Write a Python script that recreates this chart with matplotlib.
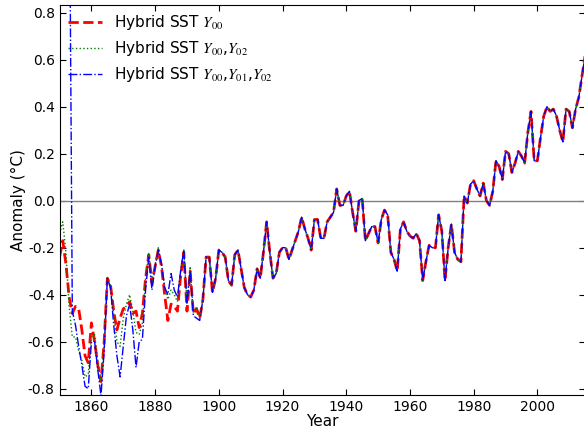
"""Hybrid SST anomaly series, 1850-2015."""
import numpy as np
import matplotlib
matplotlib.use("Agg")
import matplotlib.pyplot as plt

plt.rcParams["axes.unicode_minus"] = False
plt.rcParams["mathtext.fontset"] = "stix"

years = np.arange(1850, 2016)

# Y00 series, full period
y00 = [
    -0.24, -0.17, -0.27, -0.41, -0.48, -0.45, -0.46, -0.55, -0.66, -0.69,  # 1850
    -0.52, -0.60, -0.70, -0.77, -0.60, -0.33, -0.36, -0.47, -0.55, -0.50,  # 1860
    -0.46, -0.45, -0.43, -0.48, -0.47, -0.54, -0.48, -0.33, -0.23, -0.35,  # 1870
    -0.28, -0.21, -0.28, -0.40, -0.51, -0.44, -0.45, -0.47, -0.32, -0.22,  # 1880
    -0.47, -0.30, -0.48, -0.46, -0.50, -0.42, -0.24, -0.24, -0.39, -0.33,  # 1890
    -0.21, -0.22, -0.24, -0.34, -0.36, -0.23, -0.21, -0.29, -0.37, -0.40,  # 1900
    -0.41, -0.38, -0.29, -0.33, -0.22, -0.09, -0.22, -0.33, -0.31, -0.22,  # 1910
    -0.20, -0.20, -0.25, -0.21, -0.17, -0.13, -0.07, -0.12, -0.16, -0.21,  # 1920
    -0.08, -0.08, -0.16, -0.16, -0.09, -0.07, -0.05, 0.05, -0.02, -0.02,   # 1930
    0.02, 0.04, -0.05, -0.13, 0.00, 0.01, -0.17, -0.14, -0.11, -0.11,      # 1940
    -0.18, -0.08, -0.04, -0.06, -0.22, -0.25, -0.30, -0.12, -0.09, -0.13,  # 1950
    -0.15, -0.16, -0.14, -0.17, -0.34, -0.26, -0.19, -0.20, -0.20, -0.06,  # 1960
    -0.13, -0.34, -0.20, -0.10, -0.22, -0.25, -0.26, 0.02, -0.01, 0.07,    # 1970
    0.085, 0.05, 0.02, 0.075, 0.00, -0.02, 0.04, 0.17, 0.145, 0.09,        # 1980
    0.21, 0.20, 0.12, 0.16, 0.21, 0.19, 0.16, 0.29, 0.38, 0.17,            # 1990
    0.17, 0.27, 0.36, 0.40, 0.38, 0.39, 0.36, 0.30, 0.25, 0.39,            # 2000
    0.38, 0.31, 0.39, 0.44, 0.53, 0.62,                                    # 2010
]

# early years where the other two versions differ (1850-1895)
y00_y02_early = [
    -0.14, -0.09, -0.22, -0.45, -0.58, -0.58, -0.64, -0.68, -0.75, -0.74,
    -0.58, -0.57, -0.68, -0.77, -0.60, -0.33, -0.36, -0.48, -0.60, -0.62,
    -0.50, -0.44, -0.40, -0.47, -0.56, -0.57, -0.52, -0.33, -0.22, -0.34,
    -0.27, -0.20, -0.27, -0.37, -0.42, -0.38, -0.40, -0.43, -0.30, -0.21,
    -0.43, -0.28, -0.48, -0.45, -0.50, -0.42,
]
y00_y01_y02_early = [
    2.60, 2.30, 2.00, 1.60, -0.47, -0.53, -0.62, -0.70, -0.79, -0.80,
    -0.60, -0.60, -0.72, -0.83, -0.64, -0.33, -0.37, -0.53, -0.66, -0.75,
    -0.62, -0.49, -0.44, -0.55, -0.71, -0.60, -0.59, -0.38, -0.24, -0.38,
    -0.28, -0.21, -0.27, -0.37, -0.40, -0.31, -0.38, -0.41, -0.30, -0.21,
    -0.44, -0.30, -0.49, -0.50, -0.51, -0.42,
]
n = len(y00_y02_early)
y00_y02 = y00_y02_early + y00[n:]
y00_y01_y02 = y00_y01_y02_early + y00[n:]

fig = plt.figure(figsize=(5.84, 4.30), dpi=100)
ax = fig.add_axes([0.102, 0.0814, 0.90, 0.907])

ax.axhline(0, color="gray", linewidth=1)
ax.plot(years, y00, color="red", linestyle="--", linewidth=2,
        label="Hybrid SST $Y_{00}$")
ax.plot(years, y00_y02, color="green", linestyle=":", linewidth=1,
        label="Hybrid SST $Y_{00}$,$Y_{02}$")
ax.plot(years, y00_y01_y02, color="blue", linestyle="-.", linewidth=1,
        label="Hybrid SST $Y_{00}$,$Y_{01}$,$Y_{02}$")

ax.set_xlim(1850, 2015)
ax.set_ylim(-0.827, 0.833)
ax.set_xticks(range(1860, 2001, 20))
ax.set_yticks(np.round(np.arange(-0.8, 0.81, 0.2), 1))
ax.tick_params(direction="in", top=True, right=True, labelsize=10, length=4)
ax.set_xlabel("Year", fontsize=11, labelpad=0)
ax.set_ylabel("Anomaly (°C)", fontsize=11, labelpad=1)

ax.legend(loc="upper left", frameon=False, fontsize=11, handlelength=2.2,
          borderaxespad=0.15, labelspacing=0.45, handletextpad=0.8)

fig.savefig("out.png", dpi=100, facecolor="white")
